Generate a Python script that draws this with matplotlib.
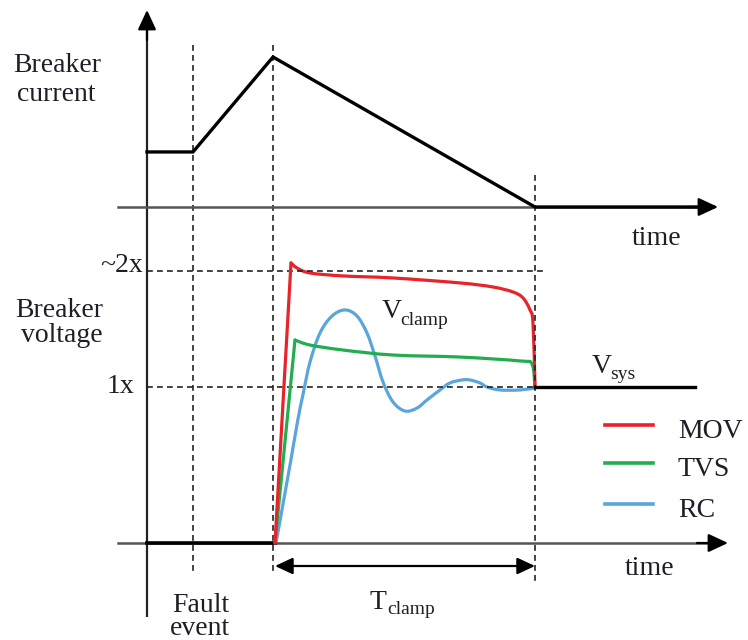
import matplotlib
matplotlib.use("Agg")
import matplotlib.pyplot as plt
from matplotlib.lines import Line2D
from matplotlib.path import Path
from matplotlib.patches import PathPatch

W, H = 748, 640
plt.rcParams['font.family'] = ['Liberation Serif', 'DejaVu Serif']

# ---------------- data (time in arbitrary units, t=0 at the vertical axis) ---------------
t_fault = 46          # fault event
t_open = 126          # breaker opens / clamp starts
t_end = 388           # clamp ends

# breaker current (per unit of peak)
cur_t = [0, 46, 126, 388, 566]
cur_i = [0.367, 0.367, 1.0, 0.0, 0.0]

# breaker voltage (per unit of system voltage)
v_level_1x = 1.0
v_level_2x = 1.744
pre_t = [0, 128]
pre_v = [0.0, 0.0]
post_t = [388, 548]
post_v = [1.0, 1.0]

# MOV: rise (straight) then clamp plateau
mov_rise_t = [128, 144]
mov_rise_v = [0.0, 1.795]
mov_t = [144, 150, 163, 196, 246, 313, 346, 366, 376, 383, 386, 388]
mov_v = [1.795, 1.763, 1.731, 1.712, 1.699, 1.667, 1.641, 1.609, 1.571, 1.494, 1.41, 1.0]

# TVS: rise (straight) then plateau
tvs_rise_t = [128, 148]
tvs_rise_v = [0.0, 1.301]
tvs_t = [148, 163, 196, 246, 313, 373, 385, 388]
tvs_v = [1.301, 1.269, 1.237, 1.205, 1.192, 1.167, 1.147, 1.0]

# RC: damped ringing
rc_t = [129, 143, 151, 156, 163, 173, 185, 198, 210, 220, 228, 236, 246, 258, 270,
        280, 293, 303, 315, 323, 333, 340, 353, 373, 388]
rc_v = [0.0, 0.5, 0.795, 0.952, 1.16, 1.346, 1.455, 1.494, 1.455, 1.346, 1.199, 1.032,
        0.904, 0.846, 0.865, 0.917, 0.981, 1.026, 1.045, 1.045, 1.026, 1.0, 0.981, 0.981, 0.994]

series_labels = ['MOV', 'TVS', 'RC']
series_colors = ['#e8232a', '#22ad4f', '#5aa5dc']

# ---------------- figure ----------------
fig = plt.figure(figsize=(W / 100, H / 100), dpi=100)
fig.patch.set_facecolor('white')

# voltage axes: v=0 at pixel row 543, v=1 at row 387
ax_v = fig.add_axes([0, 0, 1, 1])
ax_v.set_xlim(-147, W - 147)
ax_v.set_ylim((543 - H) / 156, 543 / 156)
ax_v.axis('off')

# current axes: i=0 at pixel row 207, i=1 at row 57
ax_i = fig.add_axes([0, 0, 1, 1], sharex=ax_v)
ax_i.set_ylim((207 - H) / 150, 207 / 150)
ax_i.axis('off')
ax_i.patch.set_alpha(0)

def vy(py):
    return (543 - py) / 156

def smooth_patch(xs, ys, color, lw):
    """Catmull-Rom curve through the given points, drawn as Bezier path."""
    pts = list(zip(xs, ys))
    n = len(pts)
    verts = [pts[0]]
    codes = [Path.MOVETO]
    for i in range(n - 1):
        p0 = pts[i - 1] if i > 0 else pts[i]
        p1 = pts[i]
        p2 = pts[i + 1]
        p3 = pts[i + 2] if i + 2 < n else pts[i + 1]
        c1 = (p1[0] + (p2[0] - p0[0]) / 6, p1[1] + (p2[1] - p0[1]) / 6)
        c2 = (p2[0] - (p3[0] - p1[0]) / 6, p2[1] - (p3[1] - p1[1]) / 6)
        verts += [c1, c2, p2]
        codes += [Path.CURVE4] * 3
    return PathPatch(Path(verts, codes), facecolor='none', edgecolor=color, lw=lw,
                     capstyle='round', joinstyle='round')

axis_col = '#555555'
ink = '#1e1e28'
arrow_kw = dict(arrowstyle='-|>,head_length=0.6,head_width=0.28', mutation_scale=20,
                color='black', lw=1.6, shrinkA=0, shrinkB=0)

# vertical axis
ax_v.plot([0, 0], [vy(617), vy(25)], color='#222222', lw=1.6, solid_capstyle='butt')
ax_v.annotate('', xy=(0, vy(10)), xytext=(0, vy(40)), arrowprops=arrow_kw)

# top horizontal (time) axis
ax_i.plot([-29, 560], [0, 0], color=axis_col, lw=1.8)
ax_i.annotate('', xy=(571, 0), xytext=(540, 0), arrowprops=arrow_kw)

# bottom horizontal (time) axis
ax_v.plot([-29, 570], [0, 0], color=axis_col, lw=1.8)
ax_v.annotate('', xy=(581, 0), xytext=(550, 0), arrowprops=arrow_kw)

# dashed guide lines
dash = dict(color='#222222', lw=1.2, ls=(0, (3.5, 2.5)))
ax_v.plot([t_fault, t_fault], [vy(45), vy(573)], **dash)
ax_v.plot([t_open, t_open], [vy(45), vy(573)], **dash)
ax_v.plot([t_end, t_end], [vy(175), vy(584)], **dash)
ax_v.plot([0, 398], [v_level_2x, v_level_2x], **dash)
ax_v.plot([0, t_end], [v_level_1x, v_level_1x], **dash)

# current waveform
ax_i.plot(cur_t, cur_i, color='black', lw=2.4, solid_joinstyle='miter')

# voltage waveforms
ax_v.plot(pre_t, pre_v, color='black', lw=2.6)
ax_v.plot(post_t, post_v, color='black', lw=2.4)

ax_v.add_patch(smooth_patch(rc_t, rc_v, series_colors[2], 2.3))
ax_v.plot(tvs_rise_t, tvs_rise_v, color=series_colors[1], lw=2.3, solid_capstyle='round')
ax_v.add_patch(smooth_patch(tvs_t, tvs_v, series_colors[1], 2.3))
ax_v.plot(mov_rise_t, mov_rise_v, color=series_colors[0], lw=2.3, solid_capstyle='round')
ax_v.add_patch(smooth_patch(mov_t, mov_v, series_colors[0], 2.3))

# T_clamp double arrow
ax_v.annotate('', xy=(t_end, vy(566)), xytext=(t_open + 2, vy(566)),
              arrowprops=dict(arrowstyle='<|-|>,head_length=0.6,head_width=0.28',
                              mutation_scale=18, color='black', lw=1.6,
                              shrinkA=0, shrinkB=0))

# ---------------- text ----------------
def ftext(x, y, s, size=20, ha='left', **kw):
    fig.text(x / W, 1 - y / H, s, fontsize=size, ha=ha, va='baseline', color=ink, **kw)

ftext(13, 72, 'Breaker')
ftext(17, 101, 'current')
ftext(15, 317, 'Breaker')
ftext(21, 342, 'voltage')
ftext(143, 272, '~2x', ha='right')
ftext(134, 393, '1x', ha='right')
ftext(632, 245, 'time')
ftext(625, 575, 'time')
ftext(172, 612, 'Fault')
ftext(170, 635, 'event')
ftext(370, 609, 'T')
ftext(387, 614, 'clamp', size=14)
ftext(382, 318, 'V')
ftext(400, 325, 'clamp', size=14)
ftext(592, 373, 'V')
ftext(610, 379, 'sys', size=14)

# legend
leg_rows = [425, 463, 504]
for lab, col, py in zip(series_labels, series_colors, leg_rows):
    fig.add_artist(Line2D([605 / W, 653 / W], [1 - py / H, 1 - py / H],
                          color=col, lw=2.6, transform=fig.transFigure))
    ftext(678, py + 13, lab)

fig.savefig('out.png', dpi=100, facecolor='white')
